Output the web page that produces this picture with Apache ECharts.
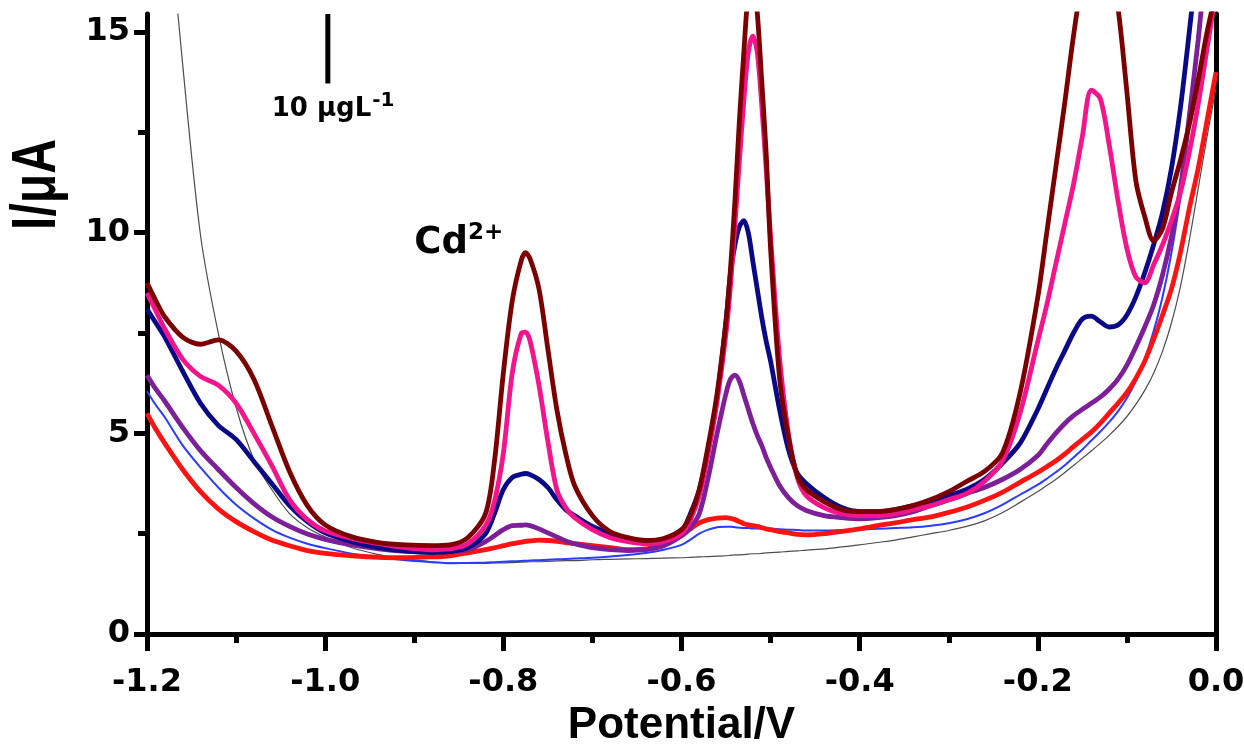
<!DOCTYPE html>
<html>
<head>
<meta charset="utf-8">
<script src="https://cdn.jsdelivr.net/npm/echarts@6/dist/echarts.min.js"></script>
<style>html,body{margin:0;padding:0;background:#fff}#chart{width:1244px;height:747px}</style>
</head>
<body>
<div id="chart"></div>
<script>
// ---------- DATA ----------
// Shared potential grid (V)
const potential = [
  -1.20,-1.19,-1.18,-1.16,-1.14,-1.12,-1.10,-1.08,-1.06,-1.04,-1.02,-1.00,-0.97,-0.94,-0.91,-0.88,-0.86,-0.84,
  -0.82,-0.81,-0.80,-0.79,-0.78,-0.775,-0.77,-0.76,-0.75,-0.74,-0.73,-0.72,-0.70,-0.68,-0.66,-0.64,-0.62,
  -0.60,-0.59,-0.58,-0.57,-0.56,-0.55,-0.545,-0.54,-0.535,-0.53,-0.525,-0.52,-0.515,-0.51,-0.505,-0.50,-0.49,-0.48,-0.47,-0.46,
  -0.44,-0.42,-0.40,-0.38,-0.36,-0.34,-0.32,-0.30,-0.28,-0.26,-0.24,-0.22,
  -0.20,-0.19,-0.18,-0.17,-0.16,-0.15,-0.14,-0.13,-0.12,-0.11,-0.10,-0.09,-0.08,-0.07,-0.06,-0.05,-0.04,-0.03,-0.02,-0.01,0.00
];
// Current (µA) per curve, same order as the potential grid
const blankCurve = [
  24,21.5,19,14.2,9.95,7.5,5.65,4.35,3.6,3.0,2.65,2.42,2.15,1.98,1.87,1.8,1.77,1.76,
  1.76,1.77,1.77,1.78,1.79,1.795,1.8,1.8,1.81,1.82,1.83,1.83,1.85,1.86,1.87,1.88,1.89,
  1.9,1.91,1.92,1.93,1.94,1.95,1.96,1.97,1.97,1.98,1.99,2.0,2.0,2.01,2.02,2.03,2.04,2.06,2.07,2.09,
  2.12,2.17,2.22,2.28,2.34,2.42,2.5,2.58,2.68,2.82,3.02,3.28,
  3.55,3.7,3.85,4.02,4.2,4.38,4.56,4.75,4.95,5.17,5.42,5.72,6.07,6.5,7.05,7.75,8.65,9.8,11.1,12.4,13.6
];
const blueCurve = [
  6.05,5.7,5.4,4.7,4.15,3.65,3.22,2.88,2.6,2.4,2.25,2.14,2.0,1.91,1.84,1.79,1.76,1.77,
  1.78,1.79,1.8,1.81,1.82,1.825,1.83,1.84,1.85,1.86,1.87,1.88,1.9,1.93,1.97,2.02,2.1,
  2.22,2.35,2.5,2.6,2.66,2.67,2.67,2.66,2.65,2.64,2.64,2.63,2.63,2.63,2.62,2.62,2.61,2.6,2.59,2.58,
  2.58,2.59,2.6,2.62,2.64,2.66,2.7,2.76,2.86,3.01,3.22,3.47,
  3.72,3.87,4.03,4.2,4.4,4.6,4.82,5.04,5.28,5.55,5.88,6.3,6.85,7.55,8.4,9.5,10.9,12.8,15.0,17.5,20.0
];
const redCurve = [
  5.5,5.1,4.75,4.1,3.55,3.12,2.8,2.55,2.34,2.2,2.08,2.01,1.95,1.91,1.9,1.92,1.95,2.02,
  2.1,2.15,2.2,2.25,2.29,2.31,2.32,2.34,2.33,2.31,2.28,2.25,2.2,2.15,2.1,2.12,2.25,
  2.45,2.62,2.77,2.85,2.89,2.9,2.88,2.85,2.8,2.75,2.72,2.7,2.68,2.65,2.62,2.6,2.55,2.52,2.48,2.47,
  2.5,2.56,2.62,2.7,2.77,2.85,2.92,3.03,3.16,3.33,3.53,3.78,
  4.03,4.17,4.31,4.48,4.67,4.85,5.03,5.25,5.5,5.75,6.02,6.37,6.8,7.35,7.95,8.6,9.5,10.6,11.6,12.8,14.0
];
const purpleCurve = [
  6.45,6.1,5.8,5.15,4.57,4.1,3.65,3.25,2.92,2.68,2.49,2.36,2.22,2.12,2.06,2.04,2.06,2.1,
  2.3,2.45,2.6,2.7,2.71,2.72,2.7,2.62,2.52,2.42,2.32,2.25,2.15,2.1,2.08,2.1,2.2,
  2.45,2.65,3.0,3.9,5.0,6.0,6.35,6.45,6.3,5.95,5.6,5.25,4.95,4.7,4.4,4.15,3.7,3.4,3.2,3.08,
  2.95,2.9,2.87,2.9,2.95,3.05,3.2,3.34,3.5,3.65,3.85,4.1,
  4.45,4.73,5.0,5.24,5.44,5.6,5.75,5.9,6.1,6.35,6.7,7.15,7.65,8.2,8.95,9.9,11.1,12.9,14.8,17.0,19.0
];
const navyCurve = [
  8.1,7.75,7.4,6.55,5.75,5.2,4.85,4.3,3.75,3.2,2.8,2.52,2.3,2.15,2.07,2.03,2.05,2.15,
  2.5,3.0,3.6,3.9,3.98,4.0,3.97,3.85,3.65,3.35,3.1,2.95,2.68,2.5,2.38,2.32,2.32,
  2.55,3.0,3.6,4.6,5.9,7.8,9.0,9.7,10.15,10.3,10.0,9.3,8.6,7.9,7.3,6.8,5.6,4.6,4.0,3.75,
  3.4,3.15,3.05,3.05,3.1,3.2,3.3,3.45,3.6,3.85,4.25,4.75,
  5.6,6.1,6.6,7.05,7.5,7.85,7.92,7.78,7.65,7.7,7.95,8.4,9.0,9.7,10.5,11.6,13.1,15.0,17.0,19.0,21.0
];
const pinkCurve = [
  8.5,8.05,7.6,6.85,6.42,6.2,5.75,5.0,4.2,3.35,2.85,2.57,2.38,2.25,2.15,2.1,2.12,2.25,
  2.7,3.3,4.5,6.5,7.48,7.52,7.3,6.2,4.8,3.6,3.15,2.9,2.6,2.4,2.3,2.25,2.3,
  2.5,2.85,3.45,4.5,5.8,7.5,8.7,10.2,11.8,13.3,14.5,14.9,14.5,13.2,11.6,9.9,6.9,5.0,3.9,3.45,
  3.15,3.0,2.95,2.95,3.0,3.1,3.2,3.35,3.5,3.8,4.3,5.5,
  7.3,8.2,9.2,10.2,11.2,12.4,13.55,13.35,12.2,10.8,9.6,8.9,8.75,9.2,9.7,10.3,11.0,12.0,13.2,14.6,16.0
];
const maroonCurve = [
  8.75,8.3,7.9,7.4,7.22,7.33,7.05,6.35,5.2,4.05,3.2,2.72,2.42,2.28,2.22,2.2,2.22,2.4,
  3.0,4.3,6.5,8.3,9.3,9.5,9.35,8.6,7.1,5.6,4.5,3.7,2.95,2.55,2.4,2.33,2.38,
  2.6,2.95,3.6,4.7,6.0,7.8,9.1,10.8,12.8,14.5,16.0,16.5,15.5,13.8,12.0,9.6,6.4,4.9,3.95,3.6,
  3.3,3.1,3.05,3.05,3.1,3.2,3.35,3.55,3.8,4.05,4.5,6.0,
  8.4,10.0,11.6,13.2,14.9,16.3,17.0,17.2,16.8,15.6,13.5,11.3,10.4,9.8,10.1,11.0,11.8,12.7,13.8,15.0,16.0
];
// Axis ticks / labels
const xTickStep = 0.2;
const yMajorTicks = [0, 5, 10, 15];
const yMinorTicks = [2.5, 7.5, 12.5];
// Scale bar (10 µg/L) in data units
const scaleBarX = [-0.997, -0.997];
const scaleBarY = [13.72, 15.45];
// ---------- END DATA ----------

const X_MIN = -1.2, X_MAX = 0, Y_MIN = 0, Y_MAX = 15.45;
const zip = (ys) => potential.map((x, i) => [x, ys[i]]);

const curves = [
  {name: 'blank', data: blankCurve, color: '#4d4d4d', width: 1.2},
  {name: 'curve 1', data: blueCurve, color: '#2a3cff', width: 2},
  {name: 'curve 2', data: redCurve, color: '#ff1212', width: 4.8},
  {name: 'curve 3', data: purpleCurve, color: '#7c1f98', width: 4.8},
  {name: 'curve 4', data: navyCurve, color: '#0a0a88', width: 4.8},
  {name: 'curve 5', data: pinkCurve, color: '#f5148c', width: 4.8},
  {name: 'curve 6', data: maroonCurve, color: '#7d0000', width: 4.8}
];

const FONT = 'DejaVu Sans';
const chart = echarts.init(document.getElementById('chart'), null, {renderer: 'canvas'});

const series = curves.map(c => ({
  name: c.name, type: 'line', xAxisIndex: 0, yAxisIndex: 0,
  data: zip(c.data), showSymbol: false, symbol: 'none',
  smooth: 0.3, clip: true, silent: true,
  lineStyle: {color: c.color, width: c.width}, itemStyle: {color: c.color}
}));
series.push({
  name: 'scale bar', type: 'line', xAxisIndex: 0, yAxisIndex: 0,
  data: scaleBarX.map((x, i) => [x, scaleBarY[i]]),
  symbol: 'none', silent: true, clip: true, lineStyle: {color: '#000', width: 5}
});

const gridRect = {left: 147, right: 28, top: 14, bottom: 113, containLabel: false, outerBoundsMode: 'none'};
const blackLine = {color: '#000', width: 5};

const option = {
  animation: false,
  backgroundColor: '#ffffff',
  grid: [Object.assign({}, gridRect), Object.assign({}, gridRect)],
  xAxis: [
    {
      gridIndex: 0, type: 'value', min: X_MIN, max: X_MAX, interval: xTickStep,
      axisLine: {show: true, onZero: false, lineStyle: blackLine},
      axisTick: {show: true, length: 17, lineStyle: blackLine},
      minorTick: {show: true, splitNumber: 2, length: 9, lineStyle: blackLine},
      splitLine: {show: false},
      axisLabel: {
        margin: 33, color: '#000', fontFamily: FONT, fontWeight: 'bold', fontSize: 32,
        formatter: v => Number(v).toFixed(1)
      },
      name: 'Potential/V', nameLocation: 'middle', nameGap: 64,
      nameTextStyle: {color: '#000', fontFamily: 'Liberation Sans', fontWeight: 'bold', fontSize: 44}
    },
    {gridIndex: 1, type: 'value', min: X_MIN, max: X_MAX, show: false}
  ],
  yAxis: [
    {
      gridIndex: 0, type: 'value', min: Y_MIN, max: Y_MAX, position: 'left',
      axisLine: {show: true, onZero: false, lineStyle: blackLine},
      axisTick: {show: true, length: 13, customValues: yMajorTicks, lineStyle: blackLine},
      axisLabel: {customValues: yMajorTicks, margin: 17, color: '#000', fontFamily: FONT, fontWeight: 'bold', fontSize: 32},
      splitLine: {show: false}
    },
    {
      gridIndex: 0, type: 'value', min: Y_MIN, max: Y_MAX, position: 'right',
      axisLine: {show: true, onZero: false, lineStyle: blackLine},
      axisTick: {show: false}, axisLabel: {show: false}, splitLine: {show: false}
    },
    {
      gridIndex: 1, type: 'value', min: Y_MIN, max: Y_MAX, position: 'left',
      axisLine: {show: false, onZero: false},
      axisTick: {show: true, length: 9, customValues: yMinorTicks, lineStyle: blackLine},
      axisLabel: {show: false}, splitLine: {show: false}
    }
  ],
  series: series
};
chart.setOption(option);

// Annotations placed through the chart's own coordinate conversion
const toPx = (x, y) => chart.convertToPixel({xAxisIndex: 0, yAxisIndex: 0}, [x, y]);
const cdPos = toPx(-0.90, 9.2);
const concPos = toPx(-1.06, 12.6);
const yNamePos = toPx(-1.2, 11.2);
chart.setOption({
  graphic: [
    {
      type: 'text', x: cdPos[0], y: cdPos[1], silent: true,
      style: {
        text: '{a|Cd}{b|2+}', verticalAlign: 'bottom', align: 'left',
        rich: {
          a: {fontFamily: FONT, fontWeight: 'bold', fontSize: 37, fill: '#000', color: '#000'},
          b: {fontFamily: FONT, fontWeight: 'bold', fontSize: 23, fill: '#000', color: '#000', verticalAlign: 'top', padding: [0, 0, 20, 0]}
        }
      }
    },
    {
      type: 'text', x: concPos[0], y: concPos[1], silent: true,
      style: {
        text: '{a|10 μgL}{b|-1}', verticalAlign: 'bottom', align: 'left',
        rich: {
          a: {fontFamily: FONT, fontWeight: 'bold', fontSize: 26, fill: '#000', color: '#000'},
          b: {fontFamily: FONT, fontWeight: 'bold', fontSize: 20, fill: '#000', color: '#000', verticalAlign: 'top', padding: [0, 0, 18, 1]}
        }
      }
    },
    {
      type: 'text', x: 38, y: yNamePos[1], rotation: Math.PI / 2, scaleY: 1.3, silent: true,
      style: {
        text: 'I/μA', align: 'center', verticalAlign: 'middle',
        fontFamily: 'Liberation Sans', fontWeight: 'bold', fontSize: 48, fill: '#000'
      }
    }
  ]
});
</script>
</body>
</html>
